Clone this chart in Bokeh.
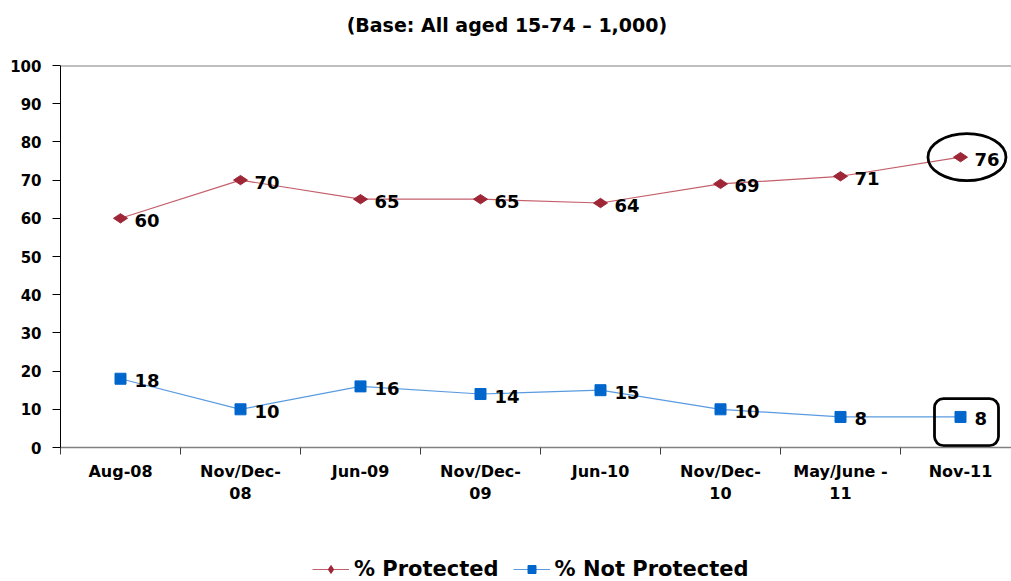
import math
from bokeh.plotting import figure
from bokeh.layouts import column
from bokeh.models import FixedTicker, Legend, LegendItem, Range1d, Span, ColumnDataSource
from bokeh.core.properties import value
from bokeh.embed import file_html
from bokeh.resources import INLINE

# ---- data ----
categories = ["Aug-08", "Nov/Dec-\n08", "Jun-09", "Nov/Dec-\n09", "Jun-10",
              "Nov/Dec-\n10", "May/June -\n11", "Nov-11"]
protected = [60, 70, 65, 65, 64, 69, 71, 76]
not_protected = [18, 10, 16, 14, 15, 10, 8, 8]
y_ticks = [0, 10, 20, 30, 40, 50, 60, 70, 80, 90, 100]
title_text = "(Base: All aged 15-74 \u2013 1,000)"
series_names = ["% Protected", "% Not Protected"]

xs = list(range(len(categories)))
FONT = "DejaVu Sans"

red_m = "#9E2636"
red_l = "#C4606C"
blue_m = "#0066CC"
blue_l = "#5A9BE0"

TOP_H = 45
LEG_H = 61
MAIN_H = 581 - TOP_H - LEG_H
xr = Range1d(-0.5, 7.425)

# ---- title strip ----
tp = figure(width=1011, height=TOP_H, output_backend="svg", toolbar_location=None,
            x_range=xr, y_range=Range1d(0, TOP_H), min_border=0,
            outline_line_color=None)
tp.axis.visible = False
tp.grid.grid_line_color = None
tp.text(x=[3.22], y=[TOP_H - 24], text=[title_text], text_font=value(FONT),
        text_font_style="bold", text_font_size="19px", text_color="black",
        text_align="center", text_baseline="middle")

# ---- main chart ----
p = figure(width=1011, height=MAIN_H, output_backend="svg", toolbar_location=None,
           x_range=xr, y_range=Range1d(0, 100),
           min_border_left=60, min_border_right=0, min_border_top=65 - TOP_H,
           min_border_bottom=MAIN_H - (447 - TOP_H))
p.outline_line_color = None
p.grid.grid_line_color = None
p.background_fill_color = "white"
p.border_fill_color = "white"

# top border line
p.add_layout(Span(location=100, dimension="width", line_color="#808080", line_width=2))

# x axis
xa = p.xaxis[0]
xa.ticker = FixedTicker(ticks=xs, minor_ticks=[i - 0.5 for i in xs] + [len(xs) - 0.5])
xa.major_label_overrides = {i: c for i, c in enumerate(categories)}
xa.major_tick_line_color = None
xa.major_tick_out = 7
xa.major_tick_in = 0
xa.minor_tick_out = 7
xa.minor_tick_in = 0
xa.minor_tick_line_color = "#404040"
xa.axis_line_color = "#808080"
xa.axis_line_width = 1.5
xa.major_label_text_font = FONT
xa.major_label_text_font_style = "bold"
xa.major_label_text_font_size = "16px"
xa.major_label_text_color = "black"
xa.major_label_standoff = 7

# y axis
ya = p.yaxis[0]
ya.ticker = FixedTicker(ticks=y_ticks)
ya.minor_tick_line_color = None
ya.major_tick_out = 8
ya.major_tick_in = 0
ya.axis_line_color = "black"
ya.major_tick_line_color = "black"
ya.major_label_text_font = FONT
ya.major_label_text_font_style = "bold"
ya.major_label_text_font_size = "15px"
ya.major_label_text_color = "black"
ya.major_label_standoff = 11

src = ColumnDataSource(dict(x=xs, p=protected, n=not_protected,
                            pl=[str(v) for v in protected],
                            nl=[str(v) for v in not_protected]))

p.line("x", "p", source=src, line_color=red_l, line_width=1.2)
p.scatter("x", "p", source=src, marker="diamond", size=14, angle=math.pi / 2,
          fill_color=red_m, line_color=red_m)
p.line("x", "n", source=src, line_color=blue_l, line_width=1.2)
p.scatter("x", "n", source=src, marker="square", size=11,
          fill_color=blue_m, line_color=blue_m)

for col, ycol in (("pl", "p"), ("nl", "n")):
    p.text("x", ycol, text=col, source=src, x_offset=14, y_offset=2,
           text_font=value(FONT), text_font_style="bold", text_font_size="18px",
           text_color="black", text_baseline="middle", text_align="left")

# highlight marks around the latest values
last = xs[-1]
p.ellipse(x=[last + 0.054], y=[protected[-1]], width=78, height=47,
          width_units="screen", height_units="screen",
          fill_color=None, line_color="black", line_width=2.8)
p.rect(x=[last + 0.05], y=[not_protected[-1] - 1.35], width=64, height=47,
       width_units="screen", height_units="screen",
       fill_color=None, line_color="black", line_width=2.8, border_radius=9)

# ---- legend strip below the chart ----
lg = figure(width=1011, height=LEG_H, output_backend="svg", toolbar_location=None,
            x_range=Range1d(0, 1), y_range=Range1d(0, 1),
            min_border=0, outline_line_color=None)
lg.axis.visible = False
lg.grid.grid_line_color = None
proxy = ColumnDataSource(dict(x=[-5], y=[-5]))  # off-range proxy for legend swatches
gl1 = lg.line("x", "y", source=proxy, line_color=red_l, line_width=1.2)
gm1 = lg.scatter("x", "y", source=proxy, marker="diamond", size=14,
                 fill_color=red_m, line_color=red_m)
gl2 = lg.line("x", "y", source=proxy, line_color=blue_l, line_width=1.2)
gm2 = lg.scatter("x", "y", source=proxy, marker="square", size=10,
                 fill_color=blue_m, line_color=blue_m)

legend = Legend(items=[LegendItem(label=series_names[0], renderers=[gl1, gm1]),
                       LegendItem(label=series_names[1], renderers=[gl2, gm2])],
                orientation="horizontal", location=(252, 0),
                glyph_width=37, glyph_height=20, label_standoff=5, spacing=14,
                padding=0, margin=0, border_line_color=None,
                background_fill_alpha=0,
                label_text_font=FONT, label_text_font_style="bold",
                label_text_font_size="21px", label_text_color="black")
lg.add_layout(legend, "center")

layout = column(tp, p, lg, spacing=0)
open("out.html", "w").write(file_html(layout, INLINE))
